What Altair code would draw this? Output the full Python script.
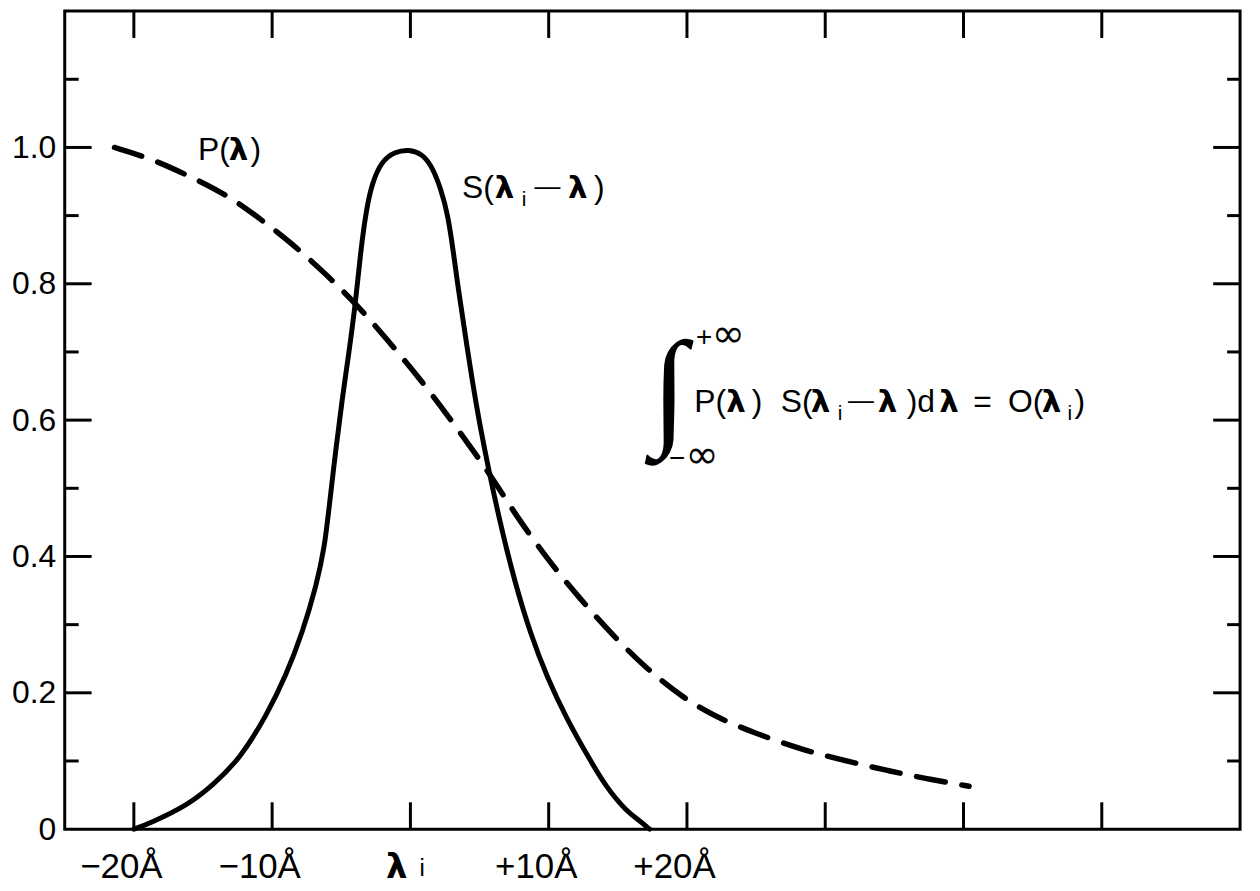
import altair as alt
import pandas as pd

# ---- data ----
# P(lambda): dashed curve
p_x = [-21.4, -18.8, -16.2, -13.3, -10.9, -8.5, -6.1, -3.95, -1.8, 0.6, 2.7, 5.7, 7.5,
       9.9, 12.3, 14.7, 17.1, 19.5, 21.9, 25.0, 28.4, 31.7, 34.5, 37.3, 40.4]
p_y = [1.0, 0.984, 0.96, 0.931, 0.896, 0.858, 0.814, 0.771, 0.721, 0.663, 0.607, 0.523, 0.464,
       0.396, 0.337, 0.283, 0.235, 0.196, 0.166, 0.140, 0.116, 0.099, 0.086, 0.074, 0.063]

# S(lambda_i - lambda): solid curve
s_x = [-20.0, -18.8, -16.2, -14.3, -12.3, -10.4, -9.0, -7.8, -6.8, -6.2, -5.9, -5.4, -4.95,
       -4.45, -3.95, -3.6, -3.2, -2.8, -2.1, -1.1, -0.1, 0.8, 1.5, 2.2, 2.7, 3.1, 3.45, 3.95,
       4.5, 5.0, 5.7, 6.55, 7.5, 8.7, 9.9, 11.3, 12.8, 14.2, 15.65, 16.6, 17.3]
s_y = [0.0, 0.009, 0.034, 0.064, 0.104, 0.167, 0.225, 0.289, 0.357, 0.415, 0.469, 0.556, 0.629,
       0.698, 0.775, 0.848, 0.907, 0.946, 0.98, 0.994, 0.997, 0.991, 0.975, 0.94, 0.902, 0.848,
       0.794, 0.727, 0.654, 0.595, 0.523, 0.444, 0.366, 0.285, 0.222, 0.162, 0.108, 0.060,
       0.026, 0.012, 0.0]

x_tick_values = [-20, -10, 0, 10, 20, 30, 40, 50]
x_label_values = [-20, -10, 10, 20]
y_label_values = [0, 0.2, 0.4, 0.6, 0.8, 1.0]
y_major_ticks = [0.2, 0.4, 0.6, 0.8, 1.0]
y_minor_ticks = [0.1, 0.3, 0.5, 0.7, 0.9, 1.1]

# annotation pieces: (text, x, y, style)
annotations = [
    ("P(", -15.36, 0.981, "reg"), ("λ", -13.14, 0.981, "bold"), (")", -11.56, 0.981, "reg"),
    ("S(", 3.73, 0.926, "reg"), ("λ", 6.10, 0.926, "bold"), ("i", 8.05, 0.914, "sub"),
    ("—", 8.97, 0.930, "dash"), ("λ", 11.40, 0.926, "bold"), (")", 13.28, 0.926, "reg"),
    ("P(", 20.53, 0.612, "reg"), ("λ", 22.85, 0.612, "bold"), (")", 24.69, 0.612, "reg"),
    ("S(", 26.78, 0.612, "reg"), ("λ", 28.95, 0.612, "bold"), ("i", 30.90, 0.600, "sub"),
    ("—", 31.65, 0.616, "dash"), ("λ", 33.80, 0.612, "bold"), (")d", 35.89, 0.612, "reg"),
    ("λ", 38.25, 0.612, "bold"), ("=", 40.70, 0.612, "reg"), ("O(", 43.22, 0.612, "reg"),
    ("λ", 45.65, 0.612, "bold"), ("i", 47.52, 0.600, "sub"), (")", 48.03, 0.612, "reg"),
    ("+", 20.65, 0.709, "small"), ("∞", 21.80, 0.708, "inf"),
    ("−", 18.70, 0.531, "small"), ("∞", 19.90, 0.530, "inf"),
    ("∫", 17.45, 0.584, "integral"),
    ("λ", -1.0, -0.0715, "axlam"), ("i", 0.65, -0.069, "axsub"),
]

styles = {
    "reg": dict(font="Liberation Sans", fontSize=32, fontWeight="normal", align="left"),
    "bold": dict(font="DejaVu Sans", fontSize=31, fontWeight="bold", align="left"),
    "sub": dict(font="Liberation Sans", fontSize=21, fontWeight="normal", align="left"),
    "dash": dict(font="Liberation Sans", fontSize=26, fontWeight="normal", align="left"),
    "small": dict(font="Liberation Sans", fontSize=28, fontWeight="normal", align="left"),
    "inf": dict(font="DejaVu Sans", fontSize=40, fontWeight="normal", align="left"),
    "integral": dict(font="Liberation Serif", fontSize=130, fontWeight="bold", align="left"),
    "axlam": dict(font="DejaVu Sans", fontSize=34, fontWeight="bold", align="center"),
    "axsub": dict(font="Liberation Sans", fontSize=24, fontWeight="normal", align="left"),
}

W, H = 1181, 822
xs = alt.Scale(domain=[-25, 60], nice=False, zero=False)
ys = alt.Scale(domain=[0, 1.2], nice=False, zero=False)

p_df = pd.DataFrame({"x": p_x, "y": p_y})
s_df = pd.DataFrame({"x": s_x, "y": s_y})

x_axis = alt.Axis(values=x_label_values, title=None, grid=False, ticks=False, tickSize=0,
                  domain=False, labelFont="Liberation Sans", labelFontSize=35,
                  labelColor="black", labelPadding=21, labelOffset=-13,
                  labelFlush=False, labelOverlap=False, labelBound=False,
                  labelExpr="datum.value < 0 ? '\u2212' + abs(datum.value) + 'Å' : '+' + datum.value + 'Å'")
y_axis = alt.Axis(values=y_label_values, title=None, grid=False, ticks=False, tickSize=0,
                  domain=False, labelFont="Liberation Sans", labelFontSize=32,
                  labelColor="black", labelPadding=9, labelOverlap=False, labelFlush=False,
                  labelExpr="datum.value == 0 ? '0' : format(datum.value, '.1f')")

X = lambda f: alt.X(f, scale=xs, axis=x_axis)
Y = lambda f: alt.Y(f, scale=ys, axis=y_axis)

s_line = alt.Chart(s_df).mark_line(color="black", strokeWidth=5, strokeCap="round",
                                   strokeJoin="round", interpolate="basis").encode(
    x=X("x:Q"), y=Y("y:Q"))
p_line = alt.Chart(p_df).mark_line(color="black", strokeWidth=5.5, strokeCap="round",
                                   strokeDash=[29, 17], interpolate="basis").encode(
    x=X("x:Q"), y=Y("y:Q"))

xt = pd.DataFrame({"x": x_tick_values})
ymaj = pd.DataFrame({"y": y_major_ticks})
ymin = pd.DataFrame({"y": y_minor_ticks})
rule = dict(color="black", strokeWidth=3)
ticks = [
    alt.Chart(xt).mark_rule(**rule).encode(x=X("x:Q"), y=alt.value(H), y2=alt.value(H - 27)),
    alt.Chart(xt).mark_rule(**rule).encode(x=X("x:Q"), y=alt.value(0), y2=alt.value(27)),
    alt.Chart(ymaj).mark_rule(**rule).encode(y=Y("y:Q"), x=alt.value(0), x2=alt.value(27)),
    alt.Chart(ymin).mark_rule(**rule).encode(y=Y("y:Q"), x=alt.value(0), x2=alt.value(14)),
    alt.Chart(ymaj).mark_rule(**rule).encode(y=Y("y:Q"), x=alt.value(W), x2=alt.value(W - 27)),
    alt.Chart(ymin).mark_rule(**rule).encode(y=Y("y:Q"), x=alt.value(W), x2=alt.value(W - 13)),
]

ann_df = pd.DataFrame(annotations, columns=["t", "x", "y", "style"])
texts = []
for key, st in styles.items():
    sub = ann_df[ann_df["style"] == key][["t", "x", "y"]]
    if len(sub) == 0:
        continue
    texts.append(
        alt.Chart(sub).mark_text(color="black", baseline="alphabetic", **st).encode(
            x=X("x:Q"), y=Y("y:Q"), text="t:N")
    )

chart = alt.layer(s_line, p_line, *ticks, *texts).properties(
    width=W, height=H,
    background="white",
    autosize=alt.AutoSizeParams(type="none"),
    padding={"left": 57, "top": 1, "right": 12, "bottom": 54},
).configure_view(stroke="black", strokeWidth=3)

chart.save("out.html", embed_options={"renderer": "svg", "actions": False})
